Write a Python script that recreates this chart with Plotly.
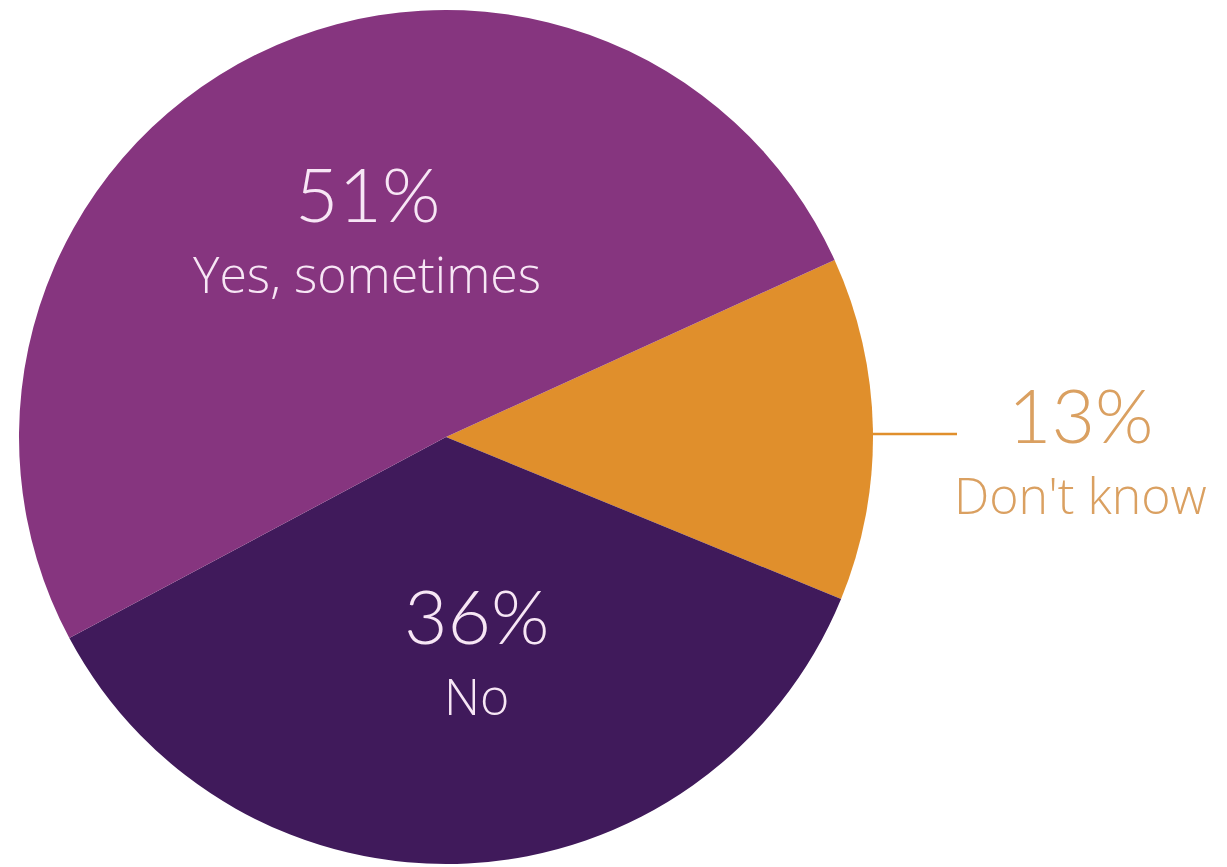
import plotly.graph_objects as go

# Survey answers, in clockwise order starting at the upper-right boundary
labels = ["Don't know", "No", "Yes, sometimes"]
values = [13, 36, 51]
colors = ["#e08f2c", "#401a5b", "#86357f"]

W, H = 1227, 867
CX, CY, R = 446, 437, 427  # pie centre and radius in pixels


def px(x):
    return x / W


def py(y):
    return 1 - y / H


fig = go.Figure(
    go.Pie(
        labels=labels,
        values=values,
        sort=False,
        direction="clockwise",
        rotation=65.5,
        marker=dict(colors=colors, line=dict(width=0)),
        textinfo="none",
        hoverinfo="label+percent",
        domain=dict(x=[px(CX - R), px(CX + R)], y=[py(CY + R), py(CY - R)]),
    )
)

BIG_FONT, SMALL_FONT = "Lato", "Open Sans"
BIG, SMALL = 75, 50
WHITE = "#f7e6f5"
ORANGE_TXT = "#daa061"

# label blocks: (x centre, y where percentage meets caption, colour) in pixels
label_pos = {
    "Yes, sometimes": (367, 239, WHITE),
    "No": (476, 661, WHITE),
    "Don't know": (1080, 460, ORANGE_TXT),
}

annotations = []
for lab, val in zip(labels, values):
    x, yj, col = label_pos[lab]
    annotations.append(dict(
        x=px(x), y=py(yj), xref="paper", yref="paper",
        text=f"{val}%", showarrow=False, xanchor="center", yanchor="bottom",
        borderpad=0,
        font=dict(family=BIG_FONT, size=BIG, color=col, weight=300),
    ))
    annotations.append(dict(
        x=px(x), y=py(yj), xref="paper", yref="paper",
        text=lab, showarrow=False, xanchor="center", yanchor="top",
        borderpad=0,
        font=dict(family=SMALL_FONT, size=SMALL, color=col, weight=300),
    ))

# leader line from the orange slice to its label
shapes = [dict(
    type="line", xref="paper", yref="paper",
    x0=px(CX + R - 2), x1=px(957), y0=py(434), y1=py(434),
    line=dict(color="#e08f2c", width=2.5),
)]

fig.update_layout(
    width=W, height=H,
    margin=dict(l=0, r=0, t=0, b=0),
    paper_bgcolor="white",
    plot_bgcolor="white",
    showlegend=False,
    annotations=annotations,
    shapes=shapes,
)

fig.write_html("out.html")
